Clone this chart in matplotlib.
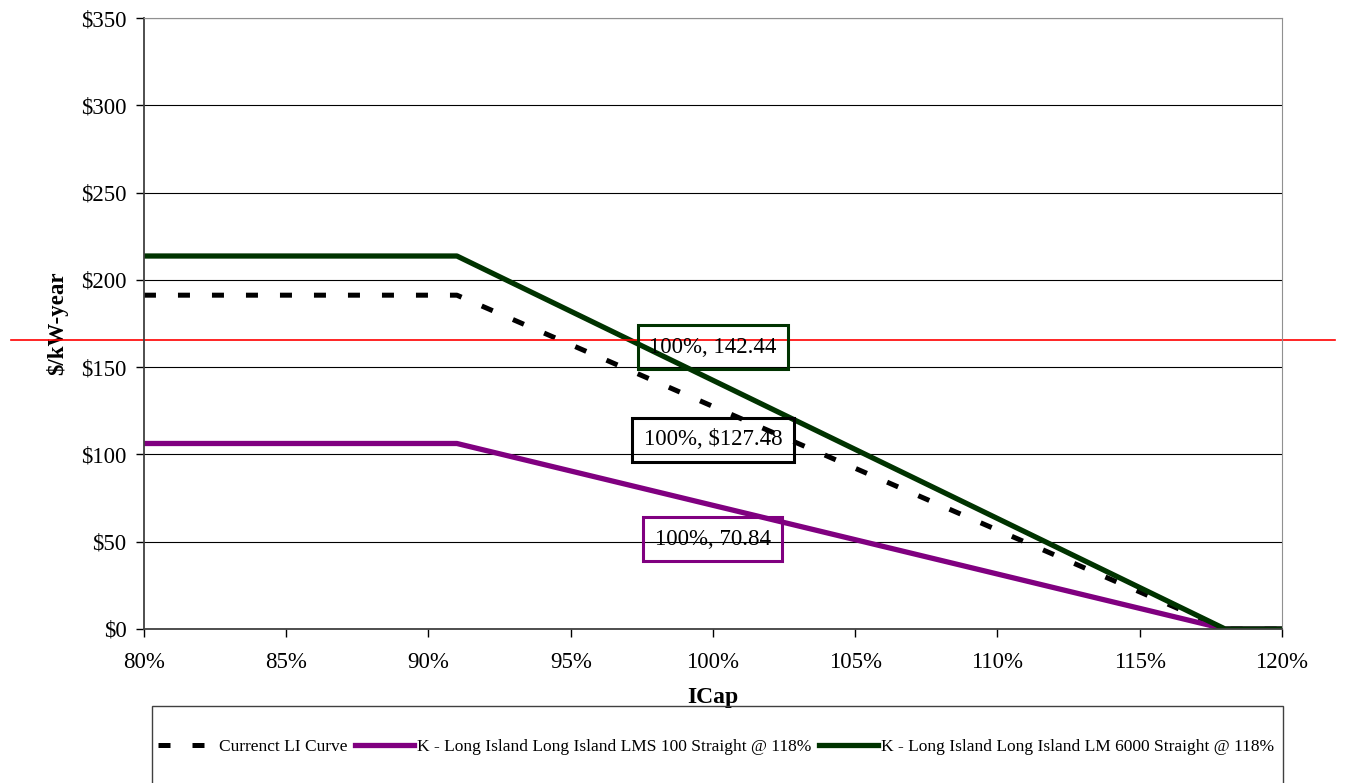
import matplotlib
matplotlib.use("Agg")
import matplotlib.pyplot as plt
from matplotlib.ticker import FuncFormatter, MultipleLocator
from matplotlib.patches import Rectangle

plt.rcParams['font.family'] = ['Liberation Serif', 'DejaVu Serif']

# ==========================================
# Data
# ==========================================
icap = [80, 91, 118, 120]
current_li = [191.22, 191.22, 0, 0]
lms100 = [106.26, 106.26, 0, 0]
lm6000 = [213.66, 213.66, 0, 0]

label_current = "Currenct LI Curve"
label_lms100 = "K - Long Island Long Island LMS 100 Straight @ 118%"
label_lm6000 = "K - Long Island Long Island LM 6000 Straight @ 118%"

# annotation boxes: (x, y, text, colour)
notes = [
    (100, 161.3, "100%, 142.44", "#003300"),
    (100, 108.3, "100%, $127.48", "black"),
    (100, 51.3, "100%, 70.84", "#800080"),
]
ref_level = 165.5

# ==========================================
# Plot
# ==========================================
fig = plt.figure(figsize=(13.48, 7.83), dpi=100)
ax = fig.add_axes([0.1068, 0.1967, 0.8442, 0.7803])

ax.plot(icap, current_li, color='black', linewidth=3.6, dashes=(2.4, 4.4),
        label=label_current)
ax.plot(icap, lms100, color='#800080', linewidth=3.8, label=label_lms100)
ax.plot(icap, lm6000, color='#003300', linewidth=3.8, label=label_lm6000)

for x, y, txt, col in notes:
    ax.text(x, y, txt, ha='center', va='center', fontsize=16.5,
            bbox=dict(boxstyle='square,pad=0.5', facecolor='none',
                      edgecolor=col, linewidth=2.2))

ax.axhline(ref_level, xmin=-0.117, xmax=1.047, color='red', linewidth=1.2,
           clip_on=False)

ax.set_xlim(80, 120)
ax.set_ylim(0, 350)
ax.xaxis.set_major_locator(MultipleLocator(5))
ax.yaxis.set_major_locator(MultipleLocator(50))
ax.xaxis.set_major_formatter(FuncFormatter(lambda v, p: f"{v:.0f}%"))
ax.yaxis.set_major_formatter(FuncFormatter(lambda v, p: f"${v:.0f}"))
ax.tick_params(labelsize=16.5, length=5.5, width=1, direction='out')
ax.tick_params(axis='x', pad=11)
ax.tick_params(axis='y', pad=7)
ax.grid(axis='y', color='black', linewidth=0.8)
ax.set_axisbelow(True)

for side in ['top', 'right']:
    ax.spines[side].set_color('#909090')
for side in ['left', 'bottom']:
    ax.spines[side].set_color('#404040')
    ax.spines[side].set_linewidth(1.3)

ax.set_xlabel("ICap", fontsize=17, fontweight='bold', labelpad=10)
ax.set_ylabel("$/kW-year", fontsize=16.5, fontweight='bold', labelpad=9)

# legend box below the chart
fig.add_artist(Rectangle((152 / 1348, -0.01), (1283 - 152) / 1348, 0.108,
                         transform=fig.transFigure, facecolor='none',
                         edgecolor='#404040', linewidth=1))
fig.legend(loc='center', bbox_to_anchor=(0.531, 0.046), ncol=3,
           frameon=False, fontsize=12.5, handlelength=3.4, handletextpad=0.15,
           columnspacing=0.45)

fig.savefig("out.png", dpi=100)
plt.close(fig)
